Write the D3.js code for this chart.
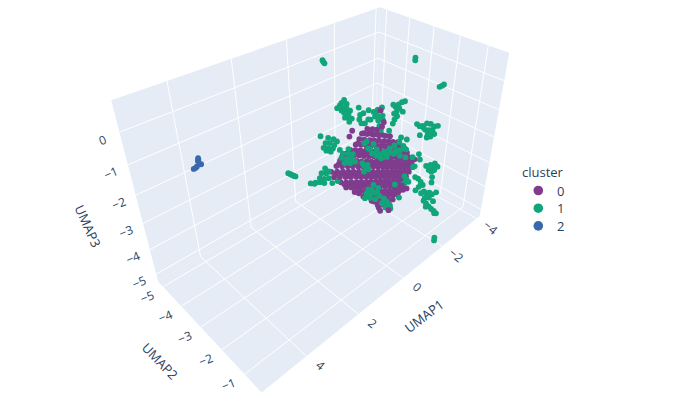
<!DOCTYPE html>
<html>
<head>
<meta charset="utf-8">
<script src="https://cdn.jsdelivr.net/npm/d3@7"></script>
<style>
  body { margin: 0; background: #fff; }
  text { font-family: "Open Sans", Verdana, sans-serif; fill: #2a3f5f; }
</style>
</head>
<body>
<svg id="chart" width="680" height="410"></svg>
<script>
const umap1Ticks = [-4, -2, 0, 2, 4]
const umap2Ticks = [-5, -4, -3, -2, -1]
const umap3Ticks = [-5, -4, -3, -2, -1, 0]
const umap1Range = [-4.2, 5.5]
const umap2Range = [-5.3, -0.3]
const umap3Range = [-5.3, 0.9]
const clusterNames = ["0", "1", "2"]
const clusterColors = ["#7F3C8D", "#11A579", "#3969AC"]

// [UMAP1, UMAP2, UMAP3], depth is a guess
const cluster0 = [
  [-.60,-2.5,-1.19],[-.83,-2.5,-1.30],[-1.03,-2.5,-1.40],
  [-.37,-2.5,-1.26],[-.59,-2.5,-1.37],[-.86,-2.5,-1.51],[-1.14,-2.5,-1.65],[-1.46,-2.5,-1.81],[-1.68,-2.5,-1.92],
  [-.26,-2.5,-1.40],[-.48,-2.5,-1.52],[-.72,-2.5,-1.64],[-.94,-2.5,-1.75],[-1.16,-2.5,-1.86],[-1.40,-2.5,-1.98],[-1.62,-2.5,-2.09],[-1.85,-2.5,-2.21],[-2.09,-2.5,-2.33],
  [-.11,-2.5,-1.53],[-.34,-2.5,-1.64],[-.57,-2.5,-1.76],[-.79,-2.5,-1.87],[-1.02,-2.5,-1.98],[-1.25,-2.5,-2.10],[-1.47,-2.5,-2.21],[-1.71,-2.5,-2.33],[-1.95,-2.5,-2.45],[-2.19,-2.5,-2.57],[-2.44,-2.5,-2.70],
  [.12,-2.5,-1.61],[-.10,-2.5,-1.72],[-.32,-2.5,-1.83],[-.56,-2.5,-1.95],[-.78,-2.5,-2.06],[-1.00,-2.5,-2.17],[-1.24,-2.5,-2.29],[-1.46,-2.5,-2.40],[-1.70,-2.5,-2.52],[-1.92,-2.5,-2.63],[-2.16,-2.5,-2.75],[-2.39,-2.5,-2.87],[-2.63,-2.5,-2.99],
  [.44,-2.5,-1.65],[.20,-2.5,-1.76],[-.02,-2.5,-1.88],[-.26,-2.5,-1.99],[-.48,-2.5,-2.11],[-.72,-2.5,-2.23],[-.94,-2.5,-2.34],[-1.17,-2.5,-2.46],[-1.40,-2.5,-2.57],[-1.63,-2.5,-2.69],[-1.85,-2.5,-2.80],[-2.09,-2.5,-2.92],[-2.31,-2.5,-3.03],[-2.55,-2.5,-3.15],[-2.79,-2.5,-3.27],
  [.54,-2.5,-1.79],[.30,-2.5,-1.91],[.08,-2.5,-2.03],[-.16,-2.5,-2.14],[-.38,-2.5,-2.26],[-.62,-2.5,-2.37],[-.84,-2.5,-2.49],[-1.08,-2.5,-2.60],[-1.32,-2.5,-2.72],[-1.54,-2.5,-2.84],[-1.78,-2.5,-2.95],[-2.00,-2.5,-3.07],[-2.23,-2.5,-3.18],[-2.47,-2.5,-3.30],[-2.71,-2.5,-3.42],[-2.93,-2.5,-3.53],
  [.69,-2.5,-1.91],[.46,-2.5,-2.03],[.22,-2.5,-2.15],[0,-2.5,-2.26],[-.24,-2.5,-2.38],[-.46,-2.5,-2.49],[-.70,-2.5,-2.61],[-.94,-2.5,-2.73],[-1.16,-2.5,-2.84],[-1.40,-2.5,-2.96],[-1.62,-2.5,-3.07],[-1.85,-2.5,-3.19],[-2.09,-2.5,-3.31],[-2.31,-2.5,-3.42],[-2.55,-2.5,-3.54],[-2.79,-2.5,-3.66],[-3.01,-2.5,-3.77],
  [.90,-2.5,-2.01],[.66,-2.5,-2.13],[.42,-2.5,-2.24],[.19,-2.5,-2.36],[-.03,-2.5,-2.47],[-.27,-2.5,-2.59],[-.49,-2.5,-2.71],[-.73,-2.5,-2.82],[-.95,-2.5,-2.94],[-1.19,-2.5,-3.05],[-1.43,-2.5,-3.17],[-1.65,-2.5,-3.28],[-1.89,-2.5,-3.40],[-2.12,-2.5,-3.52],[-2.35,-2.5,-3.63],[-2.58,-2.5,-3.75],[-2.82,-2.5,-3.87],
  [.79,-2.5,-2.26],[.55,-2.5,-2.38],[.31,-2.5,-2.50],[.09,-2.5,-2.61],[-.15,-2.5,-2.73],[-.37,-2.5,-2.84],[-.60,-2.5,-2.96],[-.83,-2.5,-3.07],[-1.06,-2.5,-3.19],[-1.29,-2.5,-3.30],[-1.52,-2.5,-3.42],[-1.74,-2.5,-3.53],[-1.98,-2.5,-3.65],[-2.22,-2.5,-3.77],[-2.44,-2.5,-3.88],[-2.68,-2.5,-4.00],
  [.50,-2.5,-2.60],[.27,-2.5,-2.72],[.05,-2.5,-2.83],[-.19,-2.5,-2.95],[-.41,-2.5,-3.06],[-.65,-2.5,-3.18],[-.87,-2.5,-3.29],[-1.11,-2.5,-3.41],[-1.33,-2.5,-3.52],[-1.57,-2.5,-3.64],[-1.79,-2.5,-3.75],[-2.03,-2.5,-3.87],[-2.25,-2.5,-3.98],[-2.50,-2.5,-4.11],
  [.28,-2.5,-2.91],[.05,-2.5,-3.03],[-.19,-2.5,-3.15],[-.41,-2.5,-3.26],[-.65,-2.5,-3.38],[-.89,-2.5,-3.49],[-1.11,-2.5,-3.61],[-1.35,-2.5,-3.72],[-1.59,-2.5,-3.84],[-1.81,-2.5,-3.96],[-2.05,-2.5,-4.07],[-2.28,-2.5,-4.19],[-2.52,-2.5,-4.31],
  [-.10,-2.5,-3.29],[-.34,-2.5,-3.41],[-.57,-2.5,-3.53],[-.83,-2.5,-3.66],[-1.08,-2.5,-3.79],[-1.33,-2.5,-3.91],[-1.59,-2.5,-4.04],[-1.84,-2.5,-4.17],[-2.09,-2.5,-4.29],[-2.35,-2.5,-4.42],[-2.57,-2.5,-4.53],
  [-.51,-2.5,-3.70],[-.76,-2.5,-3.83],[-1.02,-2.5,-3.95],[-1.27,-2.5,-4.08],[-1.52,-2.5,-4.21],[-1.78,-2.5,-4.33],[-2.03,-2.5,-4.46],[-2.28,-2.5,-4.59],
  [-.92,-2.5,-4.10],[-1.21,-2.5,-4.24],[-1.49,-2.5,-4.39],[-1.78,-2.5,-4.53],[-2.03,-2.5,-4.66],
  [-1.24,-2.5,-4.46],[-1.52,-2.5,-4.60],[-1.84,-2.5,-4.76],[-1.30,-2.5,-4.62],[-1.71,-2.5,-4.83],
  [.16,-2.5,-1.13],[-1.27,-2.5,-1.39],[-3.09,-2.5,-3.48],
  // a little further back
  [-.89,-2.9,-1.65],[-1.18,-2.9,-1.79],[-1.49,-2.9,-1.95],[-1.78,-2.9,-2.10],
  [-.64,-2.9,-1.92],[-.89,-2.9,-2.04],[-1.13,-2.9,-2.16],[-1.49,-2.9,-2.35],[-1.81,-2.9,-2.51],[-2.19,-2.9,-2.70],[-2.50,-2.9,-2.86],[-2.79,-2.9,-3.00],
  [-.13,-2.9,-2.06],[-.42,-2.9,-2.20],[-.64,-2.9,-2.31],[-.89,-2.9,-2.44],[-1.13,-2.9,-2.56],[-1.33,-2.9,-2.66],[-1.57,-2.9,-2.78],[-1.79,-2.9,-2.89],[-2.03,-2.9,-3.01],[-2.25,-2.9,-3.12],[-2.49,-2.9,-3.24],[-2.71,-2.9,-3.35],[-2.95,-2.9,-3.47],[-3.17,-2.9,-3.58],
  [.19,-2.9,-2.29],[-.07,-2.9,-2.42],[-.29,-2.9,-2.53],[-.53,-2.9,-2.65],[-.76,-2.9,-2.77],[-.99,-2.9,-2.88],[-1.22,-2.9,-3.00],[-1.46,-2.9,-3.12],[-1.68,-2.9,-3.23],[-1.92,-2.9,-3.35],[-2.14,-2.9,-3.46],[-2.38,-2.9,-3.58],[-2.62,-2.9,-3.70],[-2.84,-2.9,-3.81],[-3.09,-2.9,-3.94],[-3.33,-2.9,-4.05],
  [.34,-2.9,-2.59],[.09,-2.9,-2.72],[-.15,-2.9,-2.84],[-.37,-2.9,-2.95],[-.60,-2.9,-3.07],[-.84,-2.9,-3.19],[-1.06,-2.9,-3.30],[-1.30,-2.9,-3.42],[-1.52,-2.9,-3.53],[-1.76,-2.9,-3.65],[-2.00,-2.9,-3.77],[-2.22,-2.9,-3.88],[-2.46,-2.9,-4.00],[-2.69,-2.9,-4.12],[-2.92,-2.9,-4.23],[-3.17,-2.9,-4.36],
  [-.05,-2.9,-3.19],[-.29,-2.9,-3.31],[-.53,-2.9,-3.42],[-.76,-2.9,-3.54],[-1.00,-2.9,-3.66],[-1.21,-2.9,-3.77],[-1.44,-2.9,-3.89],[-1.68,-2.9,-4.00],[-1.90,-2.9,-4.11],[-2.12,-2.9,-4.23],[-2.36,-2.9,-4.35],[-2.60,-2.9,-4.46],[-2.85,-2.9,-4.59],
  [-.73,-2.9,-3.92],[-1.08,-2.9,-4.10],[-1.33,-2.9,-4.22],[-1.59,-2.9,-4.35],[-1.87,-2.9,-4.49],[-2.12,-2.9,-4.62],[-2.38,-2.9,-4.75],[-2.63,-2.9,-4.87],[-2.85,-2.9,-4.99],
  [-1.52,-2.9,-4.71],[-1.84,-2.9,-4.87],[-2.12,-2.9,-5.01],
  // in front of the green
  [-.22,-1.7,-.07],[.89,-1.7,-.25],[-.38,-1.7,-.51],[-.42,-1.7,-3.74],[-.83,-1.7,-3.95],[-1.43,-1.7,-3.29],[-1.69,-1.7,-3.54]
]

const cluster1 = [
  // small far groups
  [-.52,-4.3,.42],[-.55,-4.3,.355],[-.60,-4.3,.29],
  [-3.08,-2.8,.23],[-3.08,-2.8,.14],
  [-3.83,-2.3,-.86],[-3.96,-2.3,-.87],[-4.07,-2.3,-.86],
  [-1.86,-.55,-5.00],[-1.86,-.55,-5.12],
  [1.58,-3.3,-2.27],[1.65,-3.3,-2.21],[1.71,-3.3,-2.15],[1.78,-3.3,-2.08],[1.84,-3.3,-2.02],
  // upper left group
  [-.43,-3.3,-.48],[-.32,-3.3,-.54],[-.54,-3.3,-.66],[-.14,-3.3,-.65],[-.37,-3.3,-.73],[-.54,-3.3,-.82],[-.69,-3.3,-.95],[-.43,-3.3,-.92],[-.62,-3.3,-1.06],[-.77,-3.3,-1.26],[-.66,-3.3,-1.33],[-.47,-3.3,-1.11],[-1.07,-3.3,-.99],[-1.14,-3.3,-1.28],[-1.11,-3.3,-1.43],[-.25,-3.3,-.60],[-.65,-3.3,-1.20],[-.54,-3.3,-.94],[-.32,-3.3,-.80],
  // upper middle group
  [-.97,-2.8,-.83],[-1.20,-2.8,-.98],[-1.38,-2.8,-.97],[-1.58,-2.8,-.97],[-1.50,-2.8,-1.26],[-1.27,-2.8,-1.17],[-1.63,-2.8,-1.28],[-1.43,-2.8,-1.38],[-1.07,-2.8,-1.20],[-.74,-2.8,-.84],[-.97,-2.8,-1.15],[-.82,-2.8,-1.23],[-1.50,-2.8,-1.60],[-1.58,-2.8,-1.79],[-1.99,-2.8,-1.99],[-.66,-2.8,-1.16],[-1.66,-2.8,-1.46],[-1.32,-2.8,-1.04],
  // upper diagonal
  [-1.73,-2.05,-.50],[-1.59,-2.05,-.48],[-1.44,-2.05,-.50],[-1.29,-2.05,-.51],[-1.19,-2.05,-.41],[-1.48,-2.05,-.64],[-1.37,-2.05,-.70],[-1.66,-2.05,-.83],[-1.25,-2.05,-.73],[-1.40,-2.05,-.88],[-1.29,-2.05,-.95],[-1.22,-2.05,-1.06],
  // upper right group
  [-1.39,-1.3,-.81],[-1.53,-1.3,-.94],[-1.68,-1.3,-.99],[-1.88,-1.3,-.99],[-2.08,-1.3,-1.09],[-2.28,-1.3,-1.26],[-2.47,-1.3,-1.32],[-1.83,-1.3,-1.19],[-2.02,-1.3,-1.28],[-2.20,-1.3,-1.35],[-1.98,-1.3,-1.41],[-2.13,-1.3,-1.56],[-1.94,-1.3,-1.51],[-1.58,-1.3,-1.27],[-2.32,-1.3,-1.55],[-1.73,-1.3,-1.08],[-2.08,-1.3,-1.41],
  // left group
  [.78,-3.05,-1.11],[.48,-3.05,-1.30],[.26,-3.05,-1.44],[.12,-3.05,-1.58],[.59,-3.05,-1.43],[.41,-3.05,-1.51],[.23,-3.05,-1.66],[.67,-3.05,-1.56],[.48,-3.05,-1.66],[.29,-3.05,-1.76],[.56,-3.05,-1.71],[.38,-3.05,-1.83],[0,-3.05,-1.94],
  // in front of the blob, left
  [1.18,-1.55,-.62],[1.38,-1.55,-.67],[1.18,-1.55,-.77],[1.01,-1.55,-.86],[1.44,-1.55,-.78],[1.25,-1.55,-.91],[1.05,-1.55,-.98],[.92,-1.55,-1.15],[1.11,-1.55,-1.11],[1.31,-1.55,-1.01],
  // left arm
  [1.14,-2.5,-1.77],[1.00,-2.5,-1.95],[1.28,-2.5,-1.87],[1.10,-2.5,-1.96],[1.35,-2.5,-2.01],[1.18,-2.5,-2.12],[1.00,-2.5,-2.19],[1.70,-2.5,-2.01],[1.52,-2.5,-2.08],[1.35,-2.5,-2.15],[1.18,-2.5,-2.27],[1.56,-2.5,-2.10],[.86,-2.5,-2.44],[.64,-2.5,-2.48],
  // right group
  [-2.16,-1.05,-2.44],[-1.93,-1.05,-2.38],[-1.70,-1.05,-2.31],[-2.32,-1.05,-2.64],[-2.09,-1.05,-2.59],[-1.86,-1.05,-2.54],[-2.01,-1.05,-2.68],[-2.16,-1.05,-2.69],[-2.09,-1.05,-2.93],[-2.09,-1.05,-3.14],
  // lower right group
  [-2.33,-1.8,-2.55],[-2.41,-1.8,-2.80],[-2.16,-1.8,-2.95],[-2.24,-1.8,-3.42],[-2.41,-1.8,-3.57],[-2.58,-1.8,-3.80],[-2.72,-1.8,-4.00],[-2.50,-1.8,-3.96],[-2.33,-1.8,-4.02],[-2.67,-1.8,-4.33],[-2.83,-1.8,-4.34],[-3.00,-1.8,-4.50],[-3.17,-1.8,-4.58],[-3.34,-1.8,-4.74],[-3.59,-1.8,-4.79],[-2.92,-1.8,-4.67],[-3.17,-1.8,-4.79],[-3.46,-1.8,-5.12],
  // lower right diagonal
  [-1.39,-.8,-3.34],[-1.54,-.8,-3.53],[-1.70,-.8,-3.74],[-1.86,-.8,-3.94],[-2.02,-.8,-4.11],[-2.17,-.8,-4.30],[-2.06,-.8,-4.23],[-1.54,-.8,-3.66],
  // over the blob
  [-1.60,-2,-1.69],[-1.53,-2,-1.83],[-1.30,-2,-1.85],[-1.08,-2,-1.86],[-.85,-2,-1.87],[-.63,-2,-1.88],[-.40,-2,-1.71],[-.18,-2,-1.47],[-.03,-2,-1.14],[-.33,-2,-1.36],[-.70,-2,-2.04],[-.97,-2,-2.12],[-1.30,-2,-2.16],[-1.60,-2,-2.37],[-1.90,-2,-2.58],[-1.90,-2,-2.27],[-1.90,-2,-1.90],[-1.75,-2,-2.07],[-1.45,-2,-2.11],[-.48,-2,-1.62],[-2.28,-2,-2.75],[.13,-2,-1.82],[-.03,-2,-2.02],[.05,-2,-2.16],
  [.065,-2,-1.16],[-.10,-2,-1.41],[-.28,-2,-1.67],[-.475,-2,-1.84],[-.70,-2,-1.88],[-.93,-2,-2.02],[-1.12,-2,-2.04],[-1.38,-2,-2.10],[-1.60,-2,-2.16],[-1.78,-2,-2.17],[.05,-2,-1.95],[-.145,-2,-2.17],[-.10,-2,-1.99],
  [-1.93,-2,-3.34],[-2.05,-2,-3.53],[-2.17,-2,-3.69],[-1.975,-2,-3.62],[-.175,-2,-2.94],[-.58,-2,-3.27],[-.28,-2,-3.33],
  [-.33,-2,-3.04],[-.25,-2,-3.19],[-.48,-2,-3.24],[-.10,-2,-3.05],[-.63,-2,-3.13],[-.40,-2,-2.89],[-.70,-2,-3.47],[-.52,-2,-3.51],[-.03,-2,-3.20],[-.93,-2,-3.71],[-1.08,-2,-3.91],[-.85,-2,-3.86],[-1.15,-2,-4.07],[-1.30,-2,-4.34],[-1.03,-2,-4.14],[-1.27,-2,-4.20],[-1.45,-2,-3.42],[-1.72,-2,-4.11],[-1.90,-2,-3.64],[-2.35,-2,-3.16]
]

const cluster2 = [
  [4.29,-3.8,-.59],[4.29,-3.8,-.64],[4.31,-3.8,-.67],[4.235,-3.8,-.805],[4.40,-3.8,-.835],[4.46,-3.8,-.84],[4.36,-3.8,-.81]
]

const svg = d3.select("#chart")

const u = d3.scaleLinear(umap1Range, [0, 1])
const v = d3.scaleLinear(umap2Range, [0, 1])
const w = d3.scaleLinear(umap3Range, [0, 1])

// perspective matrix of the scene, takes unit box coords to pixels
const camera = [
  [-256.3355, 43.0043, -51.7488, 374.0206],
  [53.4116, 31.6894, -149.9846, 156.0773],
  [-0.2550, -0.1307, -0.1520, 1]
]
const dot = (r, p) => r[0] * p[0] + r[1] * p[1] + r[2] * p[2] + r[3]
const project = p => [dot(camera[0], p) / dot(camera[2], p), dot(camera[1], p) / dot(camera[2], p)]

// back walls and floor
const walls = [
  [[0, 0, 0], [1, 0, 0], [1, 0, 1], [0, 0, 1]],
  [[0, 0, 0], [0, 1, 0], [0, 1, 1], [0, 0, 1]],
  [[0, 0, 0], [1, 0, 0], [1, 1, 0], [0, 1, 0]]
]
svg.selectAll(".wall").data(walls).enter().append("polygon")
  .attr("class", "wall")
  .attr("points", d => d.map(project).join(" "))
  .attr("fill", "#E5ECF6")

let grid = []
umap1Ticks.forEach(t => {
  grid.push([[u(t), 1, 0], [u(t), 0, 0]])
  grid.push([[u(t), 0, 0], [u(t), 0, 1]])
})
umap2Ticks.forEach(t => {
  grid.push([[1, v(t), 0], [0, v(t), 0]])
  grid.push([[0, v(t), 0], [0, v(t), 1]])
})
umap3Ticks.forEach(t => {
  grid.push([[1, 0, w(t)], [0, 0, w(t)]])
  grid.push([[0, 0, w(t)], [0, 1, w(t)]])
})
svg.selectAll(".grid").data(grid).enter().append("line")
  .attr("class", "grid")
  .attr("x1", d => project(d[0])[0])
  .attr("y1", d => project(d[0])[1])
  .attr("x2", d => project(d[1])[0])
  .attr("y2", d => project(d[1])[1])
  .attr("stroke", "#fff")
  .attr("stroke-width", 1)

// points, far ones first
let points = []
;[cluster0, cluster1, cluster2].forEach((c, i) => {
  c.forEach(d => {
    const p = [u(d[0]), v(d[1]), w(d[2])]
    const xy = project(p)
    points.push({ x: xy[0], y: xy[1], depth: dot(camera[2], p), cluster: i })
  })
})
points.sort((a, b) => b.depth - a.depth)
svg.selectAll(".point").data(points).enter().append("circle")
  .attr("class", "point")
  .attr("cx", d => d.x)
  .attr("cy", d => d.y)
  .attr("r", 2.9)
  .attr("fill", d => clusterColors[d.cluster])

// tick labels
const fmt = t => String(t).replace("-", "\u2212")
function tickLabels(ticks, pos, dx, dy, angle) {
  svg.append("g").selectAll("text").data(ticks).enter().append("text")
    .attr("text-anchor", "middle")
    .attr("dominant-baseline", "central")
    .attr("font-size", 12)
    .attr("transform", d => {
      const p = project(pos(d))
      return `translate(${p[0] + dx},${p[1] + dy}) rotate(${angle})`
    })
    .text(fmt)
}
tickLabels(umap1Ticks, t => [u(t), 1, 0], 14, 9, 40)
tickLabels(umap2Ticks, t => [1, v(t), 0], -16, 10, -22)
tickLabels(umap3Ticks, t => [1, 0, w(t)], -17, 8, -22)

// axis titles
const titles = [["UMAP1", 424, 316, -37], ["UMAP2", 160, 361, 46], ["UMAP3", 88, 226, 66]]
svg.selectAll(".title").data(titles).enter().append("text")
  .attr("class", "title")
  .attr("text-anchor", "middle")
  .attr("dominant-baseline", "central")
  .attr("font-size", 13)
  .attr("transform", d => `translate(${d[1]},${d[2]}) rotate(${d[3]})`)
  .text(d => d[0])

// legend
const legend = svg.append("g").attr("transform", "translate(522,177)")
legend.append("text").attr("font-size", 13).text("cluster")
const item = legend.selectAll(".item").data(clusterNames).enter().append("g")
  .attr("class", "item")
  .attr("transform", (d, i) => `translate(0,${13.5 + i * 17.7})`)
item.append("circle").attr("cx", 16.3).attr("r", 4.8).attr("fill", (d, i) => clusterColors[i])
item.append("text").attr("x", 35).attr("dominant-baseline", "central").attr("font-size", 13).text(d => d)
</script>
</body>
</html>
